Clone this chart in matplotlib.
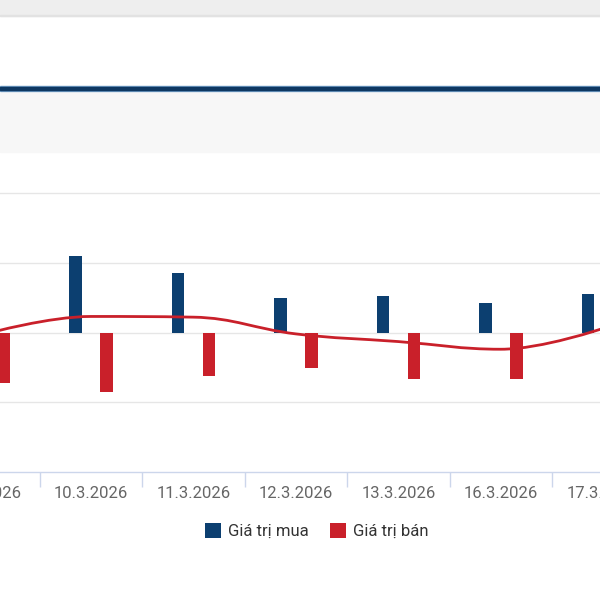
"""Recreate the buy/sell value bar chart with net-value spline."""
import matplotlib
matplotlib.use("Agg")
import matplotlib.pyplot as plt
from matplotlib.patches import Rectangle, PathPatch
from matplotlib.path import Path
from matplotlib.ticker import FixedLocator
import numpy as np

plt.rcParams["font.family"] = ["Roboto", "DejaVu Sans"]

dates = ["9.3.2026", "10.3.2026", "11.3.2026", "12.3.2026",
         "13.3.2026", "16.3.2026", "17.3.2026"]
buy_values = [72, 109, 85, 49, 53, 42, 55]
sell_values = [73, 86, 63, 51, 66, 66, 49]
net_values = [-1, 23, 22, -2, -13, -24, 6]

BLUE = "#0c3f70"
RED = "#c9202a"
GRID = "#e6e6e6"
AXIS = "#ccd6eb"


def spline_path(xs, ys, smoothing=1.5):
    """Highcharts-like spline through points as cubic Bezier path."""
    n = len(xs)
    left = [(xs[i], ys[i]) for i in range(n)]
    right = [(xs[i], ys[i]) for i in range(n)]
    denom = smoothing + 1
    for i in range(1, n - 1):
        px, py = xs[i], ys[i]
        lx, ly = xs[i - 1], ys[i - 1]
        nx, ny = xs[i + 1], ys[i + 1]
        lcx = (smoothing * px + lx) / denom
        lcy = (smoothing * py + ly) / denom
        rcx = (smoothing * px + nx) / denom
        rcy = (smoothing * py + ny) / denom
        if rcx != lcx:
            corr = (rcy - lcy) * (rcx - px) / (rcx - lcx) + py - rcy
            lcy += corr
            rcy += corr
        if lcy > ly and lcy > py:
            lcy = max(ly, py)
            rcy = 2 * py - lcy
        elif lcy < ly and lcy < py:
            lcy = min(ly, py)
            rcy = 2 * py - lcy
        if rcy > ny and rcy > py:
            rcy = max(ny, py)
            lcy = 2 * py - rcy
        elif rcy < ny and rcy < py:
            rcy = min(ny, py)
            lcy = 2 * py - rcy
        left[i] = (lcx, lcy)
        right[i] = (rcx, rcy)
    verts = [(xs[0], ys[0])]
    codes = [Path.MOVETO]
    for i in range(1, n):
        verts += [right[i - 1], left[i], (xs[i], ys[i])]
        codes += [Path.CURVE4] * 3
    return Path(verts, codes)


fig = plt.figure(figsize=(6, 6), dpi=100)
fig.patch.set_facecolor("white")

# page decorations above the chart (figure pixel coords, from top)
def band(y0, y1, color):
    fig.patches.append(Rectangle((0, 1 - y1 / 600), 1, (y1 - y0) / 600,
                                 transform=fig.transFigure, color=color,
                                 zorder=0))

band(0, 16, "#eeeeee")
band(15, 16, "#e2e2e2")
band(93, 152, "#f7f7f7")
band(86, 91, "#6f9bc4")
band(87, 90, "#0e3862")

ax = fig.add_axes([0, (600 - 472) / 600, 1, (472 - 193) / 600])
x = np.arange(len(dates))
offset = 0.151
width = 0.122

ax.bar(x - offset, buy_values, width, color=BLUE, label="Giá trị mua", zorder=3)
ax.bar(x + offset, [-v for v in sell_values], width, color=RED,
       label="Giá trị bán", zorder=3)

ax.add_patch(PathPatch(spline_path(list(x), net_values), facecolor="none",
                       edgecolor=RED, lw=2, zorder=4))

for gy in (-100, 0, 100, 200):
    ax.axhline(gy, color=GRID, lw=1, zorder=1, clip_on=False)

ax.set_yticks([])
for side in ("left", "right", "top"):
    ax.spines[side].set_visible(False)
ax.spines["bottom"].set_color(AXIS)
ax.spines["bottom"].set_linewidth(1)

# category labels drawn as text so the ones cut by the edges still show
ax.set_xticks([])
for xi, label in zip(x, dates):
    ax.annotate(label, xy=(xi, 0), xycoords=("data", "axes fraction"),
                xytext=(0, -10), textcoords="offset points",
                ha="center", va="top", fontsize=12, color="#666666",
                annotation_clip=False)
ax.xaxis.set_minor_locator(FixedLocator(np.arange(-0.5, len(dates) + 0.5)))
ax.tick_params(axis="x", which="minor", length=11, width=1, color=AXIS)

ax.set_xlim(0.114, 5.968)
ax.set_ylim(-200, 200)

fig.legend(loc="center", bbox_to_anchor=(317 / 600, 1 - 531 / 600),
           ncol=2, frameon=False, fontsize=12, handlelength=0.96,
           handleheight=0.96, handletextpad=0.42, columnspacing=1.3,
           labelcolor="#333333")

fig.savefig("out.png", dpi=100)
